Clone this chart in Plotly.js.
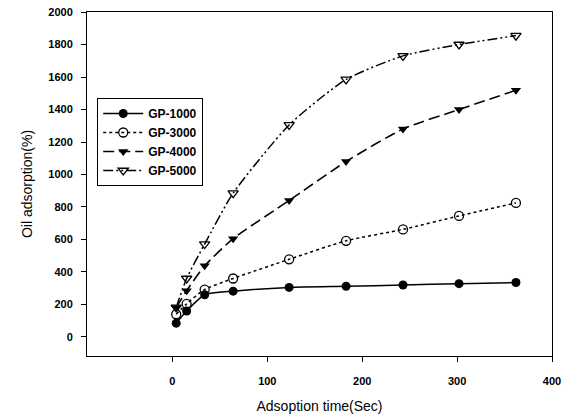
<!DOCTYPE html>
<html>
<head>
<meta charset="utf-8">
<script src="https://cdn.plot.ly/plotly-3.0.1.min.js"></script>
<style>html,body{margin:0;padding:0;background:#fff;}#chart{width:572px;height:419px;}</style>
</head>
<body>
<div id="chart"></div>
<script>
const time = [4, 15, 34, 64, 123, 183, 243, 302, 362];
const gp1000 = [85, 160, 260, 282, 305, 312, 320, 328, 335];
const gp3000 = [140, 204, 292, 360, 478, 592, 662, 745, 825];
const gp4000 = [180, 285, 438, 605, 840, 1080, 1280, 1400, 1518];
const gp5000 = [182, 360, 572, 885, 1305, 1585, 1730, 1800, 1855];
const seriesNames = ['GP-1000', 'GP-3000', 'GP-4000', 'GP-5000'];

const traces = [
  {x: time, y: gp1000, name: seriesNames[0], mode: 'lines+markers',
   line: {color: '#000', width: 1.5, dash: 'solid', shape: 'spline', smoothing: 0.6},
   marker: {symbol: 'circle', size: 9, color: '#000'}},
  {x: time, y: gp3000, name: seriesNames[1], mode: 'lines+markers',
   line: {color: '#000', width: 1.5, dash: 'dot', shape: 'spline', smoothing: 0.6},
   marker: {symbol: 'circle-open', size: 9, color: '#000', line: {width: 1.3}}},
  {x: time, y: gp4000, name: seriesNames[2], mode: 'lines+markers',
   line: {color: '#000', width: 1.6, dash: '11px,5px', shape: 'spline', smoothing: 0.6},
   marker: {symbol: 'triangle-down', size: 9, color: '#000'}},
  {x: time, y: gp5000, name: seriesNames[3], mode: 'lines+markers',
   line: {color: '#000', width: 1.5, dash: '10px,3px,2px,3px,2px,3px', shape: 'spline', smoothing: 0.6},
   marker: {symbol: 'triangle-down-open', size: 9, color: '#000', line: {width: 1.3}}}
];

const layout = {
  width: 572, height: 419,
  margin: {l: 87, r: 20, t: 12, b: 63},
  paper_bgcolor: '#fff', plot_bgcolor: '#fff',
  font: {family: 'Liberation Sans, Arial, sans-serif', color: '#000'},
  showlegend: true,
  legend: {x: 0.022, y: 0.75, xanchor: 'left', yanchor: 'top',
    bordercolor: '#000', borderwidth: 1, bgcolor: '#fff',
    font: {size: 12, family: 'Liberation Sans, Arial, sans-serif', weight: 'bold'},
    tracegroupgap: 0, itemwidth: 40},
  xaxis: {range: [-90, 400], tickvals: [0, 100, 200, 300, 400],
    ticks: 'outside', ticklen: 5, tickcolor: '#000', showgrid: false, zeroline: false,
    showline: true, linecolor: '#000', linewidth: 1, mirror: true,
    ticklabelstandoff: 10,
    tickfont: {size: 11, weight: 'bold'},
    title: {text: 'Adsoption time(Sec)', font: {size: 14}, standoff: 14}},
  yaxis: {range: [-117, 2000], tickvals: [0, 200, 400, 600, 800, 1000, 1200, 1400, 1600, 1800, 2000],
    ticks: 'outside', ticklen: 5, tickcolor: '#000', showgrid: false, zeroline: false,
    showline: true, linecolor: '#000', linewidth: 1, mirror: true,
    ticklabelstandoff: 6,
    tickfont: {size: 11, weight: 'bold'},
    title: {text: 'Oil adsorption(%)', font: {size: 14}, standoff: 12}}
};

Plotly.newPlot('chart', traces, layout, {displayModeBar: false, staticPlot: true});
</script>
</body>
</html>
